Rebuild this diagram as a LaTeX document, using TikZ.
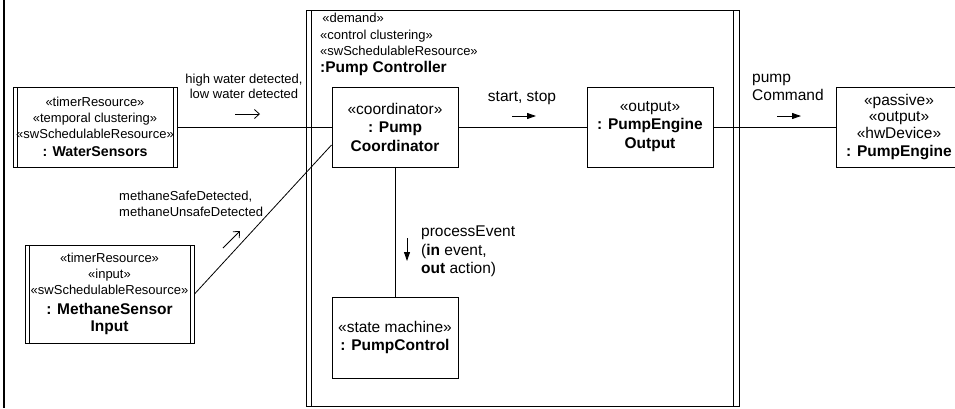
\documentclass[tikz,border=0pt]{standalone}
\usepackage{fontspec}
\setmainfont{Liberation Sans}
\usetikzlibrary{arrows.meta,calc}
\newcommand\objname[1]{{\fontsize{14.2}{16}\selectfont\bfseries #1}}
\newcommand\bigobjname[1]{{\fontsize{15.5}{17}\selectfont\bfseries #1}}
\begin{document}
\begin{tikzpicture}[x=1pt,y=-1pt,
  every node/.style={font=\fontsize{13}{16}\selectfont, inner sep=0pt},
  big/.style={font=\fontsize{15.5}{18}\selectfont},
  box/.style={draw, line width=1pt, align=center},
  active/.style={path picture={
    \draw[line width=1pt] ([xshift=#1]path picture bounding box.north west) -- ([xshift=#1]path picture bounding box.south west);
    \draw[line width=1pt] ([xshift=-#1]path picture bounding box.north east) -- ([xshift=-#1]path picture bounding box.south east);}},
  active/.default=4pt,
  conn/.style={line width=0.8pt},
  flowopen/.style={line width=0.8pt, -{Straight Barb[length=5pt,width=9pt]}},
  flowfilled/.style={line width=0.9pt, -{Triangle[length=9pt,width=6pt]}},
  lbl/.style={align=left, anchor=west}
]
\useasboundingbox (0,0) rectangle (955,408);

% frame edge on the left
\draw[line width=2.5pt] (4,0) -- (4,408);

% the active composite: Pump Controller
\node[draw, line width=0.9pt, minimum width=433pt, minimum height=396pt, active=5.5pt] (ctrl) at (522.5,208.5) {};
\node[lbl, anchor=north west] (ctrlname) at (320,13)
  {\,«demand»\\[1pt]«control clustering»\\«swSchedulableResource»\\[1pt]\bigobjname{:Pump Controller}};

% parts
\node[box, big, minimum width=126pt, minimum height=80pt] (coord) at (395,127)
  {«coordinator»\\\bigobjname{: Pump}\\[1pt]\bigobjname{Coordinator}};
\node[box, big, minimum width=126pt, minimum height=80pt] (peo) at (650,127)
  {«output»\\\bigobjname{: PumpEngine}\\[1pt]\bigobjname{Output}};
\node[box, big, minimum width=126pt, minimum height=81pt] (pc) at (395,337.5)
  {«state machine»\\\bigobjname{: PumpControl}};

% external objects
\node[box, active, minimum width=164pt, minimum height=80pt] (water) at (95,127)
  {«timerResource»\\«temporal clustering»\\«swSchedulableResource»\\[2pt]\objname{: WaterSensors}};
\node[box, active, minimum width=169pt, minimum height=98pt] (meth) at (109.5,294)
  {«timerResource»\\«input»\\«swSchedulableResource»\\[4pt]\bigobjname{: MethaneSensor}\\[1pt]\bigobjname{Input}};
\node[box, font=\fontsize{15.5}{16.5}\selectfont, minimum width=126pt, minimum height=80pt] (pe) at (899,127)
  {«passive»\\«output»\\[0.5pt]«hwDevice»\\[1.5pt]\bigobjname{: PumpEngine}};

% links
\draw[conn] (water) -- (coord);
\draw[conn] (coord) -- (peo);
\draw[conn] (peo) -- (pe);
\draw[conn] (coord) -- (pc);
\draw[conn] (meth.east) -- ($(coord.west)+(0,18)$);

% message labels
\node[align=center, font=\fontsize{13}{15}\selectfont] (lwater) at (244,86)
  {high water detected,\\low water detected};
\coordinate (w1) at (235,114); \coordinate (w2) at (260,114);
\draw[flowopen] (w1) -- (w2);

\node[big] (lss) at (522,98) {start, stop};
\coordinate (s1) at (512,116); \coordinate (s2) at (536,116);
\draw[flowfilled] (s1) -- (s2);

\node[lbl, big] (lpump) at (752,87) {pump\\Command};
\coordinate (p1) at (777,116); \coordinate (p2) at (801,116);
\draw[flowfilled] (p1) -- (p2);

\node[lbl] (lmeth) at (119,204) {methaneSafeDetected,\\methaneUnsafeDetected};
\coordinate (m1) at (223,248); \coordinate (m2) at (240,231);
\draw[flowopen] (m1) -- (m2);

\node[lbl, big] (lproc) at (421,251) {processEvent\\[1pt](\textbf{in} event,\\\textbf{out} action)};
\coordinate (e1) at (407,238); \coordinate (e2) at (407,261);
\draw[flowfilled] (e1) -- (e2);
\end{tikzpicture}
\end{document}
